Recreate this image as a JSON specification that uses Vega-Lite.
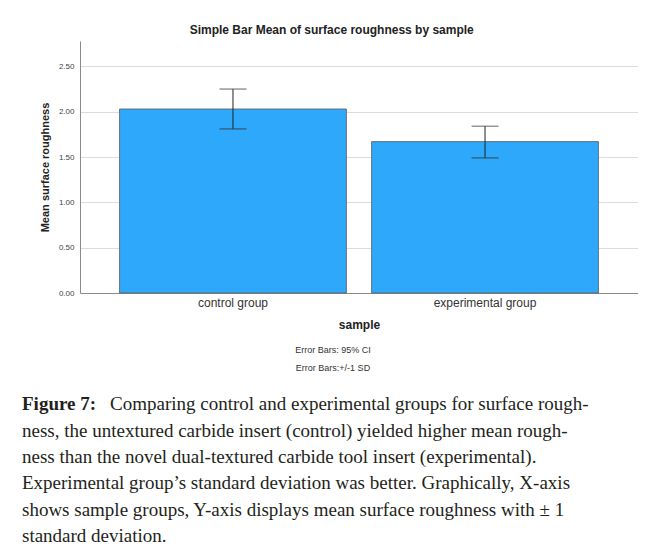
{
  "$schema": "https://vega.github.io/schema/vega-lite/v6.json",
  "padding": {"left": 22, "top": 24, "right": 0, "bottom": 0},
  "spacing": 10,
  "config": {"view": {"stroke": null}, "font": "Liberation Sans"},
  "vconcat": [
    {
      "width": 558,
      "height": 252,
      "title": {"text": "Simple Bar Mean of surface roughness by sample", "fontSize": 12, "font": "Liberation Sans", "fontWeight": "bold", "color": "#222", "offset": 4, "frame": "bounds", "dx": -7},
      "data": {"values": [
        {"sample": "control group", "mean": 2.03, "lower": 1.81, "upper": 2.25},
        {"sample": "experimental group", "mean": 1.67, "lower": 1.49, "upper": 1.84}
      ]},
      "encoding": {
        "x": {"field": "sample", "type": "nominal", "scale": {"paddingInner": 0.1, "paddingOuter": 0.157},
          "axis": {"title": "sample", "titleFontSize": 12, "titleFontWeight": "bold", "titleColor": "#222", "titlePadding": 11,
            "labelFontSize": 12, "labelColor": "#333", "labelAngle": 0, "labelPadding": 4, "ticks": false, "domainColor": "#8a8a8a", "grid": false}}
      },
      "layer": [
        {
          "mark": {"type": "bar", "color": "#2EA8FA", "stroke": "#5a5a5a", "strokeWidth": 0.8},
          "encoding": {
            "y": {"field": "mean", "type": "quantitative", "scale": {"domain": [0, 2.78], "nice": false},
              "axis": {"title": "Mean surface roughness", "titleFontSize": 11, "titleFontWeight": "bold", "titleColor": "#222", "titlePadding": 8,
                "values": [0, 0.5, 1, 1.5, 2, 2.5], "format": ".2f", "labelFontSize": 8, "labelColor": "#444", "labelPadding": 6,
                "ticks": false, "domainColor": "#8a8a8a", "gridColor": "#dcdcdc"}}
          }
        },
        {
          "mark": {"type": "rule", "color": "#222", "strokeWidth": 1},
          "encoding": {"y": {"field": "lower", "type": "quantitative"}, "y2": {"field": "upper"}}
        },
        {
          "mark": {"type": "tick", "color": "#444", "size": 27, "thickness": 1.2},
          "encoding": {"y": {"field": "upper", "type": "quantitative"}}
        },
        {
          "mark": {"type": "tick", "color": "#333", "size": 27, "thickness": 1.2},
          "encoding": {"y": {"field": "lower", "type": "quantitative"}}
        }
      ]
    },
    {
      "width": 558,
      "height": 41,
      "data": {"values": [
        {"row": 1, "note": "Error Bars: 95% CI"},
        {"row": 2, "note": "Error Bars:+/-1 SD"}
      ]},
      "mark": {"type": "text", "fontSize": 9, "color": "#333", "align": "center", "baseline": "middle", "x": {"expr": "width/2 - 26"}},
      "encoding": {
        "y": {"field": "row", "type": "ordinal", "axis": null, "scale": {"type": "point", "padding": 0.64, "align": 0.435}},
        "text": {"field": "note"}
      }
    },
    {
      "width": 558,
      "height": 158,
      "data": {"values": [
        {"line": 1, "lead": "Figure 7:", "text": "Comparing control and experimental groups for surface rough-"},
        {"line": 2, "lead": "", "text": "ness, the untextured carbide insert (control) yielded higher mean rough-"},
        {"line": 3, "lead": "", "text": "ness than the novel dual-textured carbide tool insert (experimental)."},
        {"line": 4, "lead": "", "text": "Experimental group’s standard deviation was better. Graphically, X-axis"},
        {"line": 5, "lead": "", "text": "shows sample groups, Y-axis displays mean surface roughness with ± 1"},
        {"line": 6, "lead": "", "text": "standard deviation."}
      ]},
      "encoding": {
        "y": {"field": "line", "type": "ordinal", "axis": null, "scale": {"type": "point", "padding": 0.5}}
      },
      "layer": [
        {
          "transform": [{"filter": "datum.line == 1"}],
          "mark": {"type": "text", "font": "Liberation Serif", "fontSize": 19, "fontWeight": "bold", "color": "#231f20", "align": "left", "baseline": "middle", "x": 0, "dx": -58},
          "encoding": {"text": {"field": "lead"}}
        },
        {
          "transform": [{"filter": "datum.line == 1"}],
          "mark": {"type": "text", "font": "Liberation Serif", "fontSize": 19, "color": "#231f20", "align": "left", "baseline": "middle", "x": 0, "dx": 30},
          "encoding": {"text": {"field": "text"}}
        },
        {
          "transform": [{"filter": "datum.line > 1"}],
          "mark": {"type": "text", "font": "Liberation Serif", "fontSize": 19, "color": "#231f20", "align": "left", "baseline": "middle", "x": 0, "dx": -58},
          "encoding": {"text": {"field": "text"}}
        }
      ]
    }
  ]
}
